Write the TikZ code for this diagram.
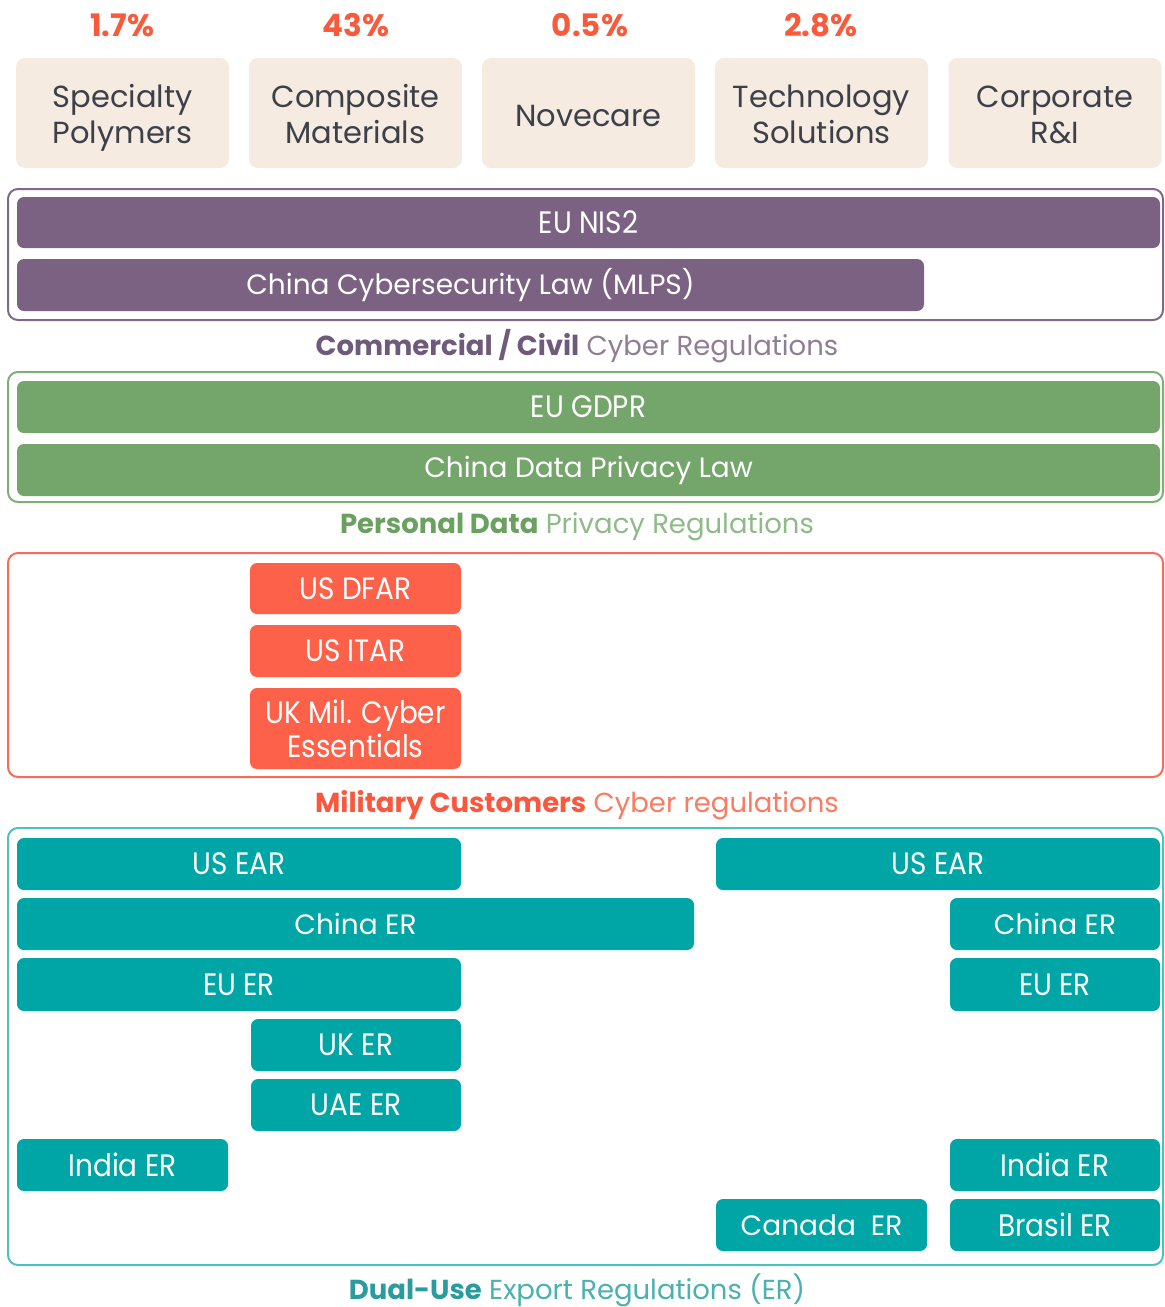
\documentclass[tikz,border=0pt]{standalone}
\usepackage{fontspec}
\setmainfont{Poppins}
\newfontfamily\condfont[FakeStretch=0.9]{Poppins}
\definecolor{beige}{HTML}{F5EBE1}
\definecolor{pct}{HTML}{FA5A3C}
\definecolor{boxtext}{HTML}{3D4049}
\definecolor{purp}{HTML}{7B6283}
\definecolor{purpframe}{HTML}{7E6A88}
\definecolor{purpbold}{HTML}{6E5A7A}
\definecolor{purplight}{HTML}{8F7F95}
\definecolor{grn}{HTML}{74A66B}
\definecolor{grnframe}{HTML}{7DB074}
\definecolor{grnbold}{HTML}{6AA060}
\definecolor{grnlight}{HTML}{8FBB88}
\definecolor{redb}{HTML}{FD614A}
\definecolor{redframe}{HTML}{FA6B55}
\definecolor{redbold}{HTML}{F9573E}
\definecolor{redlight}{HTML}{FB7B63}
\definecolor{teal}{HTML}{00A6A6}
\definecolor{tealframe}{HTML}{4EC0BE}
\definecolor{tealbold}{HTML}{2A9C9F}
\definecolor{teallight}{HTML}{4BB0B0}
\begin{document}
\begin{tikzpicture}[x=1pt,y=-1pt,
  seg/.style={fill=beige, rounded corners=9pt, minimum width=213pt, minimum height=110pt,
    inner sep=0pt},
  segtext/.style={inner sep=0pt, align=center, text=boxtext, font=\fontsize{30.5}{36}\selectfont},
  pctlab/.style={text=pct, font=\fontsize{31}{34}\selectfont\bfseries},
  regbar/.style={rounded corners=7pt, inner sep=0pt, minimum height=52pt, text=white,
    align=center, font=\fontsize{28}{32}\selectfont},
  condbar/.style={regbar, font=\condfont\fontsize{31}{34}\selectfont},
  frame/.style={draw, line width=2pt, rounded corners=10pt, inner sep=0pt},
  caption/.style={font=\fontsize{27.5}{30}\selectfont}
]
\useasboundingbox (0,0) rectangle (1165,1307);
\fill[white] (0,0) rectangle (1165,1307);

% percentages
\node[pctlab] (p1) at (122,25) {1.7\%};
\node[pctlab] (p2) at (356,25) {43\%};
\node[pctlab] (p3) at (590,25) {0.5\%};
\node[pctlab] (p4) at (821,25) {2.8\%};

% segment boxes
\node[seg] (s1) at (122.5,113) {};
\node[seg] (s2) at (355.5,113) {};
\node[seg] (s3) at (588.5,113) {};
\node[seg] (s4) at (821.5,113) {};
\node[seg] (s5) at (1055,113) {};
\node[segtext] (t1) at (122.5,118) {\strut Specialty\\\strut Polymers};
\node[segtext] (t2) at (355.5,118) {\strut Composite\\\strut Materials};
\node[segtext] (t3) at (588.5,116) {Novecare};
\node[segtext] (t4) at (821.5,118) {\strut Technology\\\strut Solutions};
\node[segtext] (t5) at (1055,118) {\strut Corporate\\\strut R\&I};

% commercial / civil
\node[frame, draw=purpframe, minimum width=1155pt, minimum height=131pt] (fcyb) at (585.5,254.5) {};
\node[condbar, fill=purp, minimum width=1143pt, minimum height=51pt] (nis) at (588.5,222.5) {EU NIS2};
\node[regbar, fill=purp, minimum width=907pt] (mlps) at (470.5,285) {China Cybersecurity Law (MLPS)};
\node[caption] (c1) at (577,346) {\textcolor{purpbold}{\bfseries Commercial / Civil} \textcolor{purplight}{Cyber Regulations}};

% personal data
\node[frame, draw=grnframe, minimum width=1155pt, minimum height=130pt] (fgrn) at (585.5,437) {};
\node[condbar, fill=grn, minimum width=1143pt] (gdpr) at (588.5,407) {EU GDPR};
\node[regbar, fill=grn, minimum width=1143pt] (cdpl) at (588.5,470) {China Data Privacy Law};
\node[caption] (c2) at (577,527) {\textcolor{grnbold}{\bfseries Personal Data} \textcolor{grnlight}{Privacy Regulations}};

% military
\node[frame, draw=redframe, minimum width=1155pt, minimum height=224pt] (fred) at (585.5,665) {};
\node[condbar, fill=redb, minimum width=211pt, minimum height=51pt] (dfar) at (355.5,588.5) {US DFAR};
\node[condbar, fill=redb, minimum width=211pt] (itar) at (355.5,651) {US ITAR};
\node[condbar, fill=redb, minimum width=211pt, minimum height=81pt] (ukmil) at (355.5,728.5) {UK Mil. Cyber\\Essentials};
\node[caption] (c3) at (577,805) {\textcolor{redbold}{\bfseries Military Customers} \textcolor{redlight}{Cyber regulations}};

% dual use
\node[frame, draw=tealframe, minimum width=1155pt, minimum height=437pt] (fteal) at (585.5,1046.5) {};
\node[condbar, fill=teal, minimum width=444pt] (usL) at (239,864) {US EAR};
\node[condbar, fill=teal, minimum width=444pt] (usR) at (938,864) {US EAR};
\node[regbar, fill=teal, minimum width=677pt] (chL) at (355.5,924) {China ER};
\node[regbar, fill=teal, minimum width=210pt] (chR) at (1055,924) {China ER};
\node[condbar, fill=teal, minimum width=444pt, minimum height=53pt] (euL) at (239,984.5) {EU ER};
\node[condbar, fill=teal, minimum width=210pt, minimum height=53pt] (euR) at (1055,984.5) {EU ER};
\node[condbar, fill=teal, minimum width=210pt] (uk) at (356,1045) {UK ER};
\node[condbar, fill=teal, minimum width=210pt] (uae) at (356,1105) {UAE ER};
\node[condbar, fill=teal, minimum width=211pt] (inL) at (122.5,1165) {India ER};
\node[condbar, fill=teal, minimum width=210pt] (inR) at (1055,1165) {India ER};
\node[regbar, fill=teal, minimum width=211pt] (ca) at (821.5,1225) {Canada\ \ ER};
\node[condbar, fill=teal, minimum width=210pt] (br) at (1055,1225) {Brasil ER};
\node[caption] (c4) at (577,1290) {\textcolor{tealbold}{\bfseries Dual-Use} \textcolor{teallight}{Export Regulations (ER)}};
\end{tikzpicture}
\end{document}
